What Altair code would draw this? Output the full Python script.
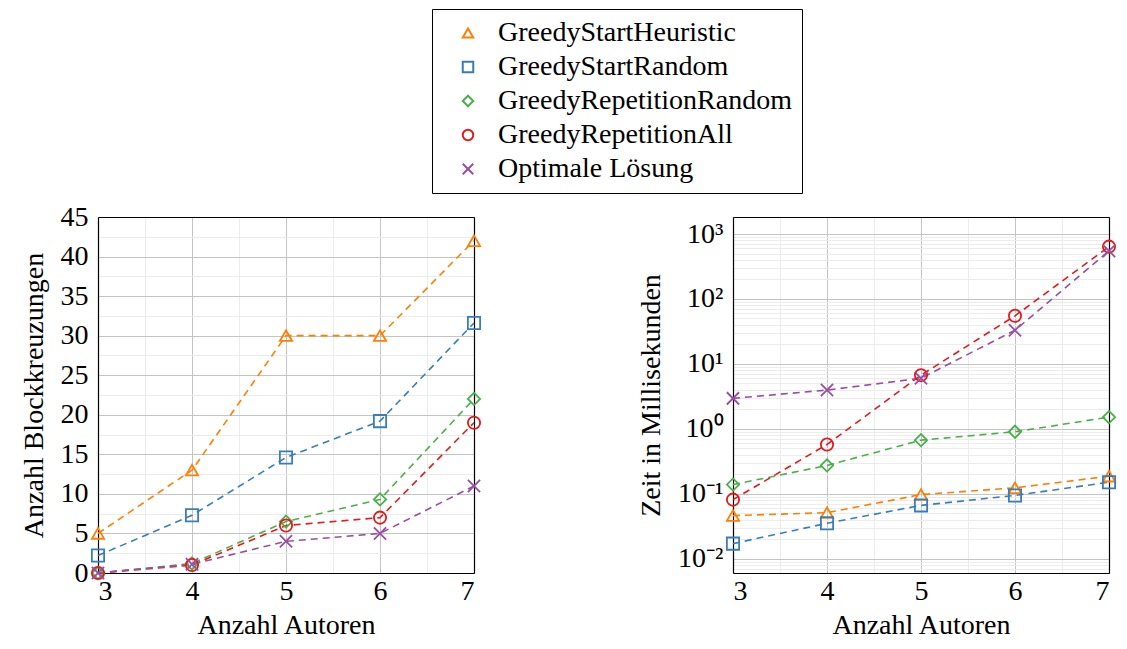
import altair as alt
import pandas as pd

authors = [3, 4, 5, 6, 7]
series = ["GreedyStartHeuristic", "GreedyStartRandom", "GreedyRepetitionRandom",
          "GreedyRepetitionAll", "Optimale Lösung"]
colors = ["#ff7f00", "#377eb8", "#4daf4a", "#e41a1c", "#984ea3"]
shapes = ["triangle-up", "square", "diamond", "circle", "M-1,-1L1,1M-1,1L1,-1"]

cross_heur = [5, 13, 30, 30, 42]
cross_rand = [2.2, 7.3, 14.6, 19.2, 31.6]
cross_reprand = [0, 1.2, 6.5, 9.3, 22]
cross_repall = [0, 1, 6, 7, 19]
cross_opt = [0, 1.1, 4, 5, 11]

time_heur = [0.046, 0.051, 0.097, 0.123, 0.186]
time_rand = [0.017, 0.035, 0.066, 0.094, 0.150]
time_reprand = [0.138, 0.272, 0.668, 0.90, 1.51]
time_repall = [0.081, 0.573, 6.7, 55, 640]
time_opt = [2.94, 3.95, 6.0, 33, 550]

left_y_major = [0, 5, 10, 15, 20, 25, 30, 35, 40, 45]
left_y_minor = [2.5, 7.5, 12.5, 17.5, 22.5, 27.5, 32.5, 37.5, 42.5]
x_major = [3, 4, 5, 6, 7]
x_minor = [3.5, 4.5, 5.5, 6.5]
right_y_major = [0.01, 0.1, 1, 10, 100, 1000]
right_y_minor = [m * d for d in [0.001, 0.01, 0.1, 1, 10, 100, 1000] for m in range(2, 10)]

cross_all = [cross_heur, cross_rand, cross_reprand, cross_repall, cross_opt]
time_all = [time_heur, time_rand, time_reprand, time_repall, time_opt]
rows = []
for s, cv, tv in zip(series, cross_all, time_all):
    for a, c, t in zip(authors, cv, tv):
        rows.append({"series": s, "authors": a, "cross": c, "time": t})
df = pd.DataFrame(rows)

FONT = "Liberation Serif"
MAJOR = "#c4c4c4"
MINOR = "#ececec"

color_scale = alt.Scale(domain=series, range=colors)
shape_scale = alt.Scale(domain=series, range=shapes)
legend = alt.Legend(title=None, orient="none", legendX=334, legendY=-208,
                    strokeColor="black", fillColor="white", padding=10,
                    labelFont=FONT, labelFontSize=28, labelColor="black", labelLimit=800,
                    symbolSize=110, symbolStrokeWidth=2, rowPadding=6,
                    labelOffset=16, symbolOffset=12)


def panel(ycol, yscale, ymajor, yminor, ytitle, ylabel_expr=None):
    xs = alt.Scale(domain=[3, 7], nice=False)
    base = alt.Chart(df)
    yaxis_kw = dict(values=ymajor, grid=True, gridColor=MAJOR, gridWidth=1,
                    ticks=False, domain=True, domainColor="black", domainWidth=1.2,
                    title=ytitle, orient="left",
                    labelPadding=10, titlePadding=12)
    if ylabel_expr:
        yaxis_kw["labelExpr"] = ylabel_expr
    minor = base.mark_point(opacity=0).encode(
        x=alt.X("authors:Q", scale=xs,
                axis=alt.Axis(values=x_minor, grid=True, gridColor=MINOR, labels=False,
                              ticks=False, domain=True, domainColor="black", domainWidth=1.2,
                              title=None, orient="top")),
        y=alt.Y(ycol, scale=yscale,
                axis=alt.Axis(values=yminor, grid=True, gridColor=MINOR, labels=False,
                              ticks=False, domain=True, domainColor="black", domainWidth=1.2,
                              title=None, orient="right")),
    )
    line = base.mark_line(strokeDash=[7, 5], strokeWidth=1.6).encode(
        x=alt.X("authors:Q", scale=xs,
                axis=alt.Axis(values=x_major, grid=True, gridColor=MAJOR, ticks=False,
                              domain=True, domainColor="black", domainWidth=1.2,
                              title="Anzahl Autoren", orient="bottom",
                              labelPadding=4, titlePadding=6)),
        y=alt.Y(ycol, scale=yscale, axis=alt.Axis(**yaxis_kw)),
        color=alt.Color("series:N", scale=color_scale, legend=legend),
    )
    pts = base.mark_point(size=150, strokeWidth=1.8, filled=False, opacity=1).encode(
        x=alt.X("authors:Q", scale=xs, axis=None),
        y=alt.Y(ycol, scale=yscale, axis=None),
        color=alt.Color("series:N", scale=color_scale, legend=legend),
        shape=alt.Shape("series:N", scale=shape_scale, legend=legend),
    )
    return alt.layer(minor, line, pts).resolve_axis(x="independent", y="independent").properties(
        width=376, height=356)


left = panel("cross:Q", alt.Scale(domain=[0, 45], nice=False), left_y_major, left_y_minor,
             "Anzahl Blockkreuzungen")
sup = "['10⁻²','10⁻¹','10⁰','10¹','10²','10³'][round(log(datum.value)/LN10)+2]"
right = panel("time:Q", alt.Scale(type="log", domain=[0.006, 1830], nice=False),
              right_y_major, right_y_minor, "Zeit in Millisekunden", sup)

chart = alt.hconcat(left, right, spacing=153).properties(
    padding={"left": 12, "top": 0, "right": 0, "bottom": 0}
).configure_view(
    stroke=None
).configure_axis(
    labelFont=FONT, labelFontSize=28, labelColor="black",
    titleFont=FONT, titleFontSize=28, titleColor="black", titleFontWeight="normal"
)

chart.save("out.html", embed_options={"renderer": "svg", "actions": False})
